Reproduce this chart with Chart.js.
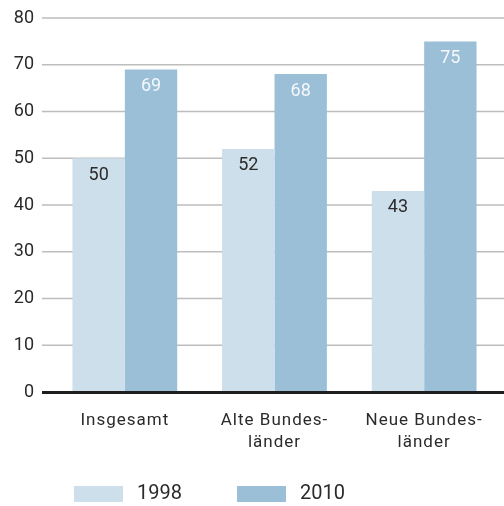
<!DOCTYPE html>
<html lang="de">
<head>
<meta charset="utf-8">
<title>1998 / 2010</title>
<script src="https://cdn.jsdelivr.net/npm/chart.js@4"></script>
<style>
  html, body { margin: 0; padding: 0; background: #ffffff; }
  #wrap { width: 504px; height: 506px; position: relative; }
</style>
</head>
<body>
<div id="wrap"><canvas id="barChart"></canvas></div>
<script>
// Daten
const categories = [["Insgesamt"], ["Alte Bundes-", "länder"], ["Neue Bundes-", "länder"]];
const series = ["1998", "2010"];
const values1998 = [50, 52, 43];
const values2010 = [69, 68, 75];
const yMax = 80;
const yStep = 10;

const colors = ["#cddfeb", "#9abfd7"];
const labelColors = ["#2b2b2b", "#f4f8fb"];
const textColor = "#2b2b2b";
const fontFamily = "Roboto, 'Noto Sans', sans-serif";

// Gitterlinien, Nulllinie, Werte, Achsenbeschriftung und Legende
const extrasPlugin = {
  id: "extras",
  beforeDatasetsDraw(chart) {
    const { ctx } = chart;
    const y = chart.scales.y;
    ctx.save();
    ctx.strokeStyle = "#bdbdbd";
    ctx.lineWidth = 1.5;
    y.ticks.forEach((t) => {
      if (t.value === 0) return;
      const py = y.getPixelForValue(t.value);
      ctx.beginPath();
      ctx.moveTo(42, py);
      ctx.lineTo(chart.width, py);
      ctx.stroke();
    });
    ctx.restore();
  },
  afterDatasetsDraw(chart) {
    const { ctx } = chart;
    const x = chart.scales.x;
    const y = chart.scales.y;
    ctx.save();

    // Nulllinie
    const y0 = y.getPixelForValue(0);
    ctx.strokeStyle = "#1e1e1e";
    ctx.lineWidth = 3;
    ctx.beginPath();
    ctx.moveTo(42, y0 + 0.5);
    ctx.lineTo(chart.width, y0 + 0.5);
    ctx.stroke();

    // Werte in den Balken
    ctx.font = "18px " + fontFamily;
    ctx.textAlign = "center";
    ctx.textBaseline = "middle";
    chart.data.datasets.forEach((ds, di) => {
      const meta = chart.getDatasetMeta(di);
      ctx.fillStyle = labelColors[di];
      meta.data.forEach((bar, i) => {
        ctx.fillText(String(ds.data[i]), bar.x, bar.y + 17);
      });
    });

    // Kategorien unter der Achse
    ctx.fillStyle = textColor;
    ctx.font = "17px " + fontFamily;
    ctx.letterSpacing = "1px";
    categories.forEach((lines, i) => {
      const cx = x.getPixelForValue(i);
      lines.forEach((line, li) => {
        ctx.fillText(line, cx, 421 + li * 22);
      });
    });
    ctx.letterSpacing = "0px";

    // Legende
    const legendX = [74, 237];
    ctx.font = "20px " + fontFamily;
    ctx.textAlign = "left";
    series.forEach((name, i) => {
      ctx.fillStyle = colors[i];
      ctx.fillRect(legendX[i], 486, 49, 16);
      ctx.fillStyle = textColor;
      ctx.fillText(name, legendX[i] + 63, 494);
    });

    ctx.restore();
  }
};

window.addEventListener("DOMContentLoaded", () => {
  const ctx = document.getElementById("barChart");

  new Chart(ctx, {
    type: "bar",
    data: {
      labels: categories,
      datasets: [
        {
          label: series[0],
          data: values1998,
          backgroundColor: colors[0],
          borderWidth: 0,
          categoryPercentage: 0.7,
          barPercentage: 1.0
        },
        {
          label: series[1],
          data: values2010,
          backgroundColor: colors[1],
          borderWidth: 0,
          categoryPercentage: 0.7,
          barPercentage: 1.0
        }
      ]
    },
    options: {
      responsive: true,
      maintainAspectRatio: false,
      animation: false,
      layout: {
        padding: { top: 18, right: 5, bottom: 114, left: 0 }
      },
      plugins: {
        legend: { display: false },
        tooltip: { enabled: false }
      },
      scales: {
        x: {
          display: false
        },
        y: {
          min: 0,
          max: yMax,
          afterFit(scale) {
            scale.width = 50;
            scale.paddingTop = 0;
            scale.paddingBottom = 0;
          },
          border: { display: false },
          grid: { display: false, drawTicks: false },
          ticks: {
            stepSize: yStep,
            padding: 16,
            color: textColor,
            font: { family: fontFamily, size: 18 }
          }
        }
      }
    },
    plugins: [extrasPlugin]
  });
});
</script>
</body>
</html>
